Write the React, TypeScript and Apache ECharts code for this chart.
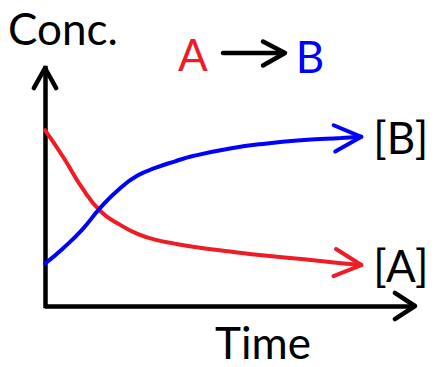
import React, { useEffect, useRef } from "react";
import * as echarts from "echarts";

// Reaction A -> B: concentration of each species over time
const TIME = [0, 0.5, 1, 1.5, 2, 2.5, 3, 3.5, 4, 5, 6, 7, 8, 8.55];
const CONC_A = [7.39, 6.24, 4.97, 3.98, 3.44, 3.03, 2.78, 2.62, 2.49, 2.29, 2.11, 1.96, 1.8, 1.72];
const CONC_B = [1.78, 2.44, 3.2, 4.13, 4.91, 5.48, 5.81, 6.07, 6.3, 6.62, 6.83, 6.97, 7.06, 7.11];
const SERIES_LABELS = ["[A]", "[B]"];
const AXIS_NAMES = ["Time", "Conc."];
const SPECIES = ["A", "B"];
const X_MAX = 10;
const Y_MAX = 10;

const RED = "#ee1c24";
const BLUE = "#0000ff";
const INK = "#000000";
const FONT = "Lato, 'Open Sans', sans-serif";

export default function App() {
  const ref = useRef<HTMLDivElement>(null);

  useEffect(() => {
    if (!ref.current) return;
    const chart = echarts.init(ref.current, undefined, { renderer: "svg" });
    const n = TIME.length;

    // arrowhead tips: end of each curve, then end of each axis
    const tips = [
      { value: [TIME[n - 1], CONC_A[n - 1]], from: [TIME[n - 2], CONC_A[n - 2]], color: RED, len: 30, half: 27, width: 4 },
      { value: [TIME[n - 1], CONC_B[n - 1]], from: [TIME[n - 2], CONC_B[n - 2]], color: BLUE, len: 30, half: 26, width: 4 },
      { value: [X_MAX, 0], from: [0, 0], color: INK, len: 24, half: 33, width: 4.5 },
      { value: [0, Y_MAX], from: [0, 0], color: INK, len: 23, half: 29, width: 4.5 },
    ];

    const curve = (name: string, values: number[], color: string, label: string) => ({
      name,
      type: "line",
      data: TIME.map((t, i) => [t, values[i]]),
      smooth: 0.5,
      showSymbol: false,
      silent: true,
      lineStyle: { color, width: 4, cap: "round", join: "round" },
      endLabel: {
        show: true,
        formatter: label,
        color: INK,
        fontFamily: FONT,
        fontSize: 44,
        distance: 12,
      },
      emphasis: { disabled: true },
      z: 3,
    });

    chart.setOption({
      animation: false,
      textStyle: { fontFamily: FONT },
      grid: { left: 45, top: 68, right: 28, bottom: 61, containLabel: false },
      xAxis: {
        type: "value",
        min: 0,
        max: X_MAX,
        axisLine: { show: true, lineStyle: { color: INK, width: 4.5, cap: "butt" } },
        axisTick: { show: false },
        axisLabel: { show: false },
        splitLine: { show: false },
      },
      yAxis: {
        type: "value",
        min: 0,
        max: Y_MAX,
        axisLine: { show: true, lineStyle: { color: INK, width: 4.5, cap: "square" } },
        axisTick: { show: false },
        axisLabel: { show: false },
        splitLine: { show: false },
      },
      series: [
        curve("A", CONC_A, RED, SERIES_LABELS[0]),
        curve("B", CONC_B, BLUE, SERIES_LABELS[1]),
        {
          type: "custom",
          silent: true,
          clip: false,
          z: 4,
          data: tips.map((t) => t.value),
          renderItem: (params: any, api: any) => {
            const t = tips[params.dataIndex];
            const tip = api.coord([api.value(0), api.value(1)]);
            const prev = api.coord(t.from);
            const back = Math.atan2(prev[1] - tip[1], prev[0] - tip[0]);
            const h = (t.half * Math.PI) / 180;
            const p1 = [tip[0] + t.len * Math.cos(back - h), tip[1] + t.len * Math.sin(back - h)];
            const p2 = [tip[0] + t.len * Math.cos(back + h), tip[1] + t.len * Math.sin(back + h)];
            return {
              type: "polyline",
              shape: { points: [p1, tip, p2] },
              style: { stroke: t.color, lineWidth: t.width, fill: null, lineCap: "round", lineJoin: "round" },
            };
          },
        },
      ],
      graphic: [
        {
          type: "text",
          left: 8,
          top: 6,
          style: { text: AXIS_NAMES[1], fill: INK, font: `44px ${FONT}` },
        },
        {
          type: "text",
          x: 263,
          y: 342,
          style: { text: AXIS_NAMES[0], fill: INK, font: `44px ${FONT}`, align: "center", verticalAlign: "middle", lineHeight: 44 },
        },
        {
          type: "text",
          x: 193,
          y: 54,
          style: { text: SPECIES[0], fill: RED, font: `44px ${FONT}`, align: "center", verticalAlign: "middle" },
        },
        {
          type: "text",
          x: 310,
          y: 56,
          style: { text: SPECIES[1], fill: BLUE, font: `44px ${FONT}`, align: "center", verticalAlign: "middle" },
        },
        {
          type: "line",
          shape: { x1: 223, y1: 53, x2: 284, y2: 53 },
          style: { stroke: INK, lineWidth: 4.5, lineCap: "round" },
        },
        {
          type: "polyline",
          shape: { points: [[263, 41.5], [285, 53], [263, 65.5]] },
          style: { stroke: INK, lineWidth: 4.5, fill: null, lineCap: "round", lineJoin: "round" },
        },
      ],
    });

    return () => chart.dispose();
  }, []);

  return (
    <div
      ref={ref}
      style={{ position: "fixed", left: 0, top: 0, width: 443, height: 367, background: "#ffffff" }}
    />
  );
}
